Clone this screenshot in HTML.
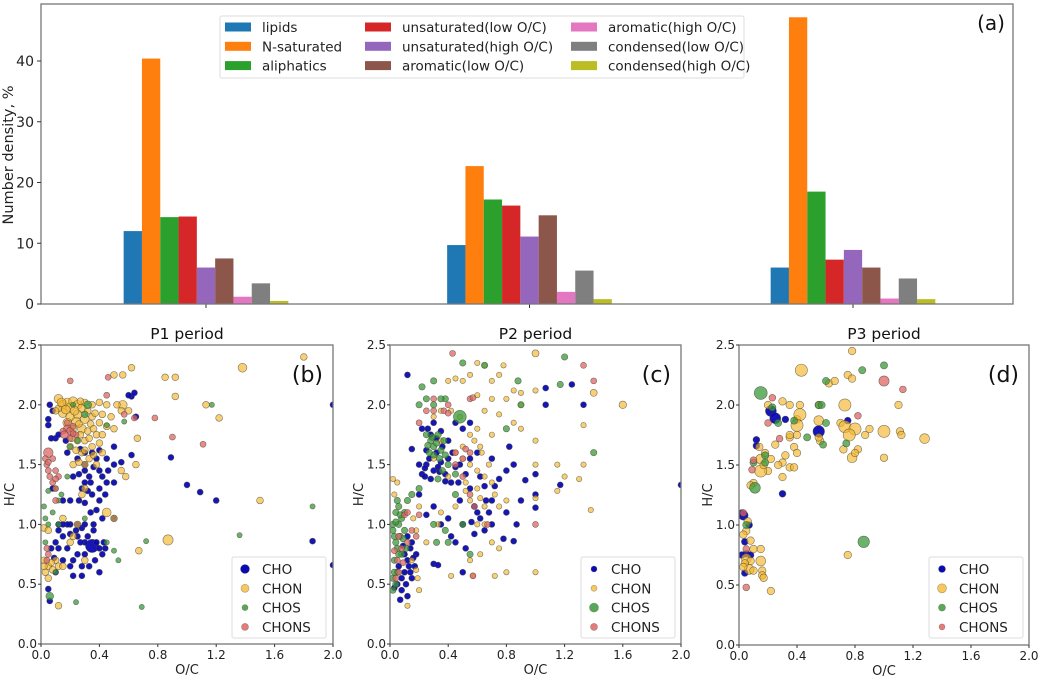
<!DOCTYPE html>
<html><head><meta charset="utf-8">
<style>
html,body{margin:0;padding:0;background:#fff;}
svg{display:block;font-family:"DejaVu Sans","Liberation Sans",sans-serif;}
</style></head>
<body>
<svg id="fig" width="1040" height="680" viewBox="0 0 1040 680" xmlns="http://www.w3.org/2000/svg"></svg>
<script>
// ---- Bar chart data (a) ----
const periods = ["P1","P2","P3"];
const categories = ["lipids","N-saturated","aliphatics","unsaturated(low O/C)","unsaturated(high O/C)","aromatic(low O/C)","aromatic(high O/C)","condensed(low O/C)","condensed(high O/C)"];
const catColors = ["#1f77b4","#ff7f0e","#2ca02c","#d62728","#9467bd","#8c564b","#e377c2","#7f7f7f","#bcbd22"];
const valsP1 = [12.0,40.4,14.3,14.4,6.0,7.5,1.2,3.4,0.5];
const valsP2 = [9.7,22.7,17.2,16.2,11.1,14.6,2.0,5.5,0.8];
const valsP3 = [6.0,47.2,18.5,7.3,8.9,6.0,0.9,4.2,0.8];
const barYTicks = [0,10,20,30,40];

// ---- Scatter data: [O/C, H/C, sizeFactor] ----
const p1CHO = [[0.35,0.82,2.2],[0.4,0.6],[0.22,0.57],[0.28,0.57],[0.3,0.75],[0.1,0.85],[0.12,0.95],[0.15,0.9],[0.2,0.92],[0.25,0.9],[0.3,0.85],[0.4,0.8],[0.42,0.75],[0.36,0.95],[0.42,1.05],[0.5,1.05],[0.3,1.18],[0.4,1.2],[0.28,1.3],[0.35,1.25],[0.45,1.35],[0.5,1.35],[0.22,1.4],[0.3,1.45],[0.4,1.45],[0.5,1.5],[0.38,1.55],[0.45,1.55],[0.55,1.52],[0.62,1.58],[0.3,1.6],[0.5,1.65],[0.62,2.07],[0.6,2.08],[0.64,2.1],[0.65,1.9],[0.89,1.56],[1.0,1.33],[1.09,1.27],[1.2,1.2],[1.86,0.86],[2.0,0.66],[2.0,2.0],[0.05,0.46],[0.06,0.36],[0.07,0.8],[0.05,1.88],[0.05,1.83],[0.06,2.0],[0.1,1.72],[0.15,1.2],[0.08,1.3],[0.18,1.6],[0.2,1.0],[0.25,1.0],[0.15,0.7],[0.2,0.65],[0.33,0.65],[0.28,0.97],[0.36,1.0],[0.43,0.85],[0.12,1.0],[0.18,0.8],[0.25,0.75],[0.33,1.4],[0.4,1.3],[0.2,1.2],[0.1,0.6],[0.07,1.72],[0.3,1.5],[0.26,1.42],[0.34,1.35],[0.32,0.9],[0.38,0.85],[0.44,0.8],[0.27,0.85],[0.24,0.95],[0.3,1.0],[0.34,1.1],[0.38,1.12],[0.26,1.2],[0.32,1.28],[0.42,1.4],[0.46,1.45],[0.36,1.48],[0.25,1.55],[0.35,1.6],[0.4,1.62],[0.18,1.0],[0.15,1.0],[0.09,0.72],[0.12,0.8],[0.22,0.7],[0.28,0.65],[0.37,0.7],[0.17,1.7],[0.12,1.75],[0.08,1.95],[0.27,1.63],[0.44,1.25],[0.3,1.35]];
const p1CHON = [[0.5,2.25],[0.56,2.25],[0.62,2.31],[0.85,2.23],[0.92,2.23],[0.92,2.07],[1.38,2.31,1.3],[1.8,2.4],[1.13,2.0],[1.22,1.89],[1.5,1.2],[0.87,0.87,1.5],[0.67,0.78],[0.12,0.32],[0.56,2.0,1.3],[0.52,2.0],[0.12,2.05,1.3],[0.15,2.0,1.3],[0.18,2.02,1.3],[0.2,1.98,1.3],[0.22,2.03,1.3],[0.25,2.0,1.3],[0.28,1.97,1.3],[0.3,2.02],[0.35,2.0],[0.4,2.02],[0.45,2.0],[0.15,1.93,1.3],[0.2,1.9,1.3],[0.25,1.92,1.3],[0.3,1.88,1.3],[0.35,1.9],[0.4,1.85],[0.45,1.82],[0.18,1.85,1.3],[0.22,1.8],[0.28,1.8,1.3],[0.32,1.78],[0.38,1.75],[0.25,1.7],[0.3,1.7],[0.35,1.65],[0.4,1.68],[0.2,1.65],[0.28,1.6],[0.33,1.55],[0.38,1.5],[0.22,1.5],[0.42,1.6],[0.3,1.5],[0.55,1.45],[0.58,1.4],[0.65,1.5],[0.66,1.72],[0.5,1.8],[0.48,1.9],[0.55,1.95],[0.6,1.95],[0.02,0.97],[0.05,0.95],[0.02,0.7],[0.05,0.65],[0.03,0.6],[0.08,0.62],[0.1,0.7],[0.05,0.55],[0.12,0.65],[0.15,0.65],[0.2,0.85],[0.15,1.05],[0.45,1.1,1.3],[0.5,1.05],[0.12,1.97],[0.1,1.95],[0.3,1.3],[0.28,1.25],[0.25,1.0],[0.22,0.9],[0.3,0.7],[0.14,2.02,1.3],[0.24,1.86,1.3],[0.34,1.84],[0.27,1.75],[0.21,1.72],[0.17,1.96,1.3],[0.23,1.95,1.3],[0.27,2.03],[0.32,1.95],[0.37,1.93],[0.42,1.92],[0.26,1.84],[0.33,1.72],[0.36,1.8],[0.42,1.75],[0.24,1.62],[0.3,1.62],[0.36,1.58],[0.26,1.52],[0.02,0.65],[0.07,0.68]];
const p1CHOS = [[0.06,0.4,1.5],[0.24,0.35],[0.69,0.31],[0.72,0.86],[0.53,0.7],[0.5,0.78],[1.36,0.91],[1.86,1.15],[1.17,2.0],[0.32,2.0,1.5],[0.3,1.92,1.3],[0.57,1.86],[0.45,1.83],[0.02,1.15],[0.03,1.05],[0.05,1.0],[0.08,1.1],[0.12,1.2],[0.1,1.3],[0.14,1.25],[0.05,1.28],[0.03,0.85],[0.1,0.6],[0.12,1.0],[0.18,1.4],[0.2,1.65],[0.3,1.05],[0.45,0.85],[0.25,1.7],[0.22,2.0]];
const p1CHONS = [[0.05,1.6,1.6],[0.04,1.5],[0.05,1.45],[0.06,1.4],[0.1,1.45],[0.12,1.4],[0.08,1.35],[0.1,1.3],[0.03,1.55],[0.04,0.8],[0.05,0.75],[0.04,0.7],[0.18,1.8,1.3],[0.2,1.78,1.3],[0.22,1.82],[0.2,1.72],[0.24,1.75],[0.18,1.85],[0.15,1.78],[0.2,2.2],[0.46,2.23],[0.45,2.08],[0.78,1.89],[0.9,1.73],[1.11,1.67],[0.64,1.89],[0.57,1.92],[0.08,1.55],[0.1,1.2],[0.16,1.75,1.3],[0.22,1.76],[0.05,1.52],[0.1,1.38]];

const p2CHO = [[0.12,2.25],[1.07,2.14],[1.07,2.0],[1.25,2.17],[1.33,2.0],[1.17,1.33],[2.0,1.33],[1.0,1.42],[1.0,1.25],[1.0,1.14],[0.9,1.2],[0.93,1.37],[0.87,1.0],[0.85,0.86],[0.78,0.88],[0.8,1.1],[0.7,1.0],[0.66,1.2],[0.6,1.1],[0.55,1.3],[0.5,1.0],[0.45,0.85],[0.5,0.6],[0.52,0.8],[0.58,0.92],[0.3,0.67],[0.33,0.66],[0.4,1.05],[0.42,0.9],[0.35,1.0],[0.3,1.15],[0.25,1.08],[0.2,1.25],[0.82,1.65],[0.8,1.45],[0.75,1.38],[0.85,1.5],[0.7,1.55],[0.6,1.6],[0.45,1.85],[0.5,1.8],[0.55,1.85],[0.2,1.5],[0.22,1.42],[0.25,1.5],[0.28,1.38],[0.3,1.45],[0.32,1.6],[0.35,1.52],[0.38,1.42],[0.25,1.62],[0.28,1.75],[0.22,1.8],[0.3,1.85],[0.35,1.78],[0.4,1.7],[0.4,1.55],[0.45,1.48],[0.42,1.35],[0.47,1.35],[0.52,1.42],[0.15,1.63],[0.03,0.47],[0.07,0.37],[0.05,0.5],[0.08,0.55],[0.1,0.6],[0.12,0.7],[0.14,0.8],[0.12,0.9],[0.15,0.85],[0.1,0.75],[0.13,0.65],[0.15,0.55],[0.12,0.4],[0.08,0.45],[0.06,0.65],[0.18,0.75],[0.58,1.15],[0.62,1.05],[0.65,0.95],[0.7,1.2],[0.27,1.55],[0.33,1.48],[0.24,1.4],[0.26,1.8],[0.32,1.72],[0.36,1.65],[0.38,1.36],[0.34,1.44],[0.24,1.47],[0.43,1.6],[0.48,1.5],[0.55,1.55],[0.62,1.4],[0.65,1.32],[0.68,1.1],[0.72,1.32],[0.56,1.02],[0.48,1.2],[0.16,0.72],[0.11,0.5],[0.14,0.6],[0.09,0.82],[0.17,0.65]];
const p2CHON = [[1.6,2.0,1.4],[1.4,2.1,1.3],[1.33,1.83],[1.33,1.5],[1.3,1.38],[1.2,1.4],[1.15,1.28],[1.15,1.5],[1.38,1.12],[1.0,2.43,1.3],[1.0,2.12],[1.0,1.7],[1.0,1.5],[1.0,1.22],[1.0,0.6],[0.8,0.6],[0.72,0.57],[0.42,0.57],[0.57,0.57],[0.4,2.2],[0.45,2.22],[0.5,2.2],[0.55,2.25],[0.6,2.35],[0.65,2.33],[0.7,2.2],[0.78,2.33],[0.85,2.12],[0.9,2.1],[0.6,2.08],[0.7,2.05],[0.8,2.05],[0.9,2.0],[0.65,1.95],[0.75,1.92],[0.85,1.85],[0.55,1.75],[0.6,1.8],[0.7,1.75],[0.9,1.8],[0.5,1.55],[0.55,1.5],[0.6,1.45],[0.65,1.4],[0.7,1.35],[0.72,1.25],[0.75,1.15],[0.8,1.2],[0.6,1.3],[0.65,1.15],[0.55,1.2],[0.45,1.15],[0.35,1.1],[0.33,1.0],[0.6,1.0],[0.65,1.0],[0.7,0.85],[0.75,0.8],[0.62,0.75],[0.55,0.7],[0.25,0.85],[0.15,0.7],[0.18,0.62],[0.2,0.45],[0.12,0.32],[0.05,1.35],[0.03,1.25],[0.02,1.38],[0.4,1.4],[0.45,1.6],[0.35,1.7],[0.3,1.55],[0.5,1.65],[0.48,1.9],[0.42,1.95],[0.35,1.95],[0.3,1.9],[0.2,1.15],[0.75,2.25],[0.62,1.65],[0.52,1.35],[0.58,1.7],[0.63,1.6],[0.68,1.5],[0.52,1.28],[0.62,1.22],[0.18,0.95],[0.16,1.05],[0.19,0.55]];
const p2CHOS = [[0.48,1.9,2.0],[0.02,1.0],[0.03,0.9],[0.04,1.1],[0.05,0.8],[0.06,1.0],[0.07,0.9],[0.08,1.05],[0.1,0.95],[0.03,0.7],[0.05,0.6],[0.04,0.5],[0.02,0.45],[0.08,0.75],[0.1,1.1],[0.12,1.2],[0.15,1.25],[0.06,1.15],[0.05,1.2],[0.2,2.0],[0.22,2.15],[0.25,2.05],[0.3,2.0],[0.3,2.2],[0.38,2.05],[0.35,2.05],[0.5,2.35],[0.65,2.33],[0.88,2.2],[1.2,2.4],[1.17,2.17],[0.9,2.0],[1.4,1.6],[0.25,1.75],[0.28,1.7],[0.3,1.65],[0.32,1.68],[0.35,1.62],[0.3,1.58],[0.27,1.6],[0.38,1.58],[0.4,1.5],[0.36,1.45],[0.33,1.38],[0.45,1.42],[0.2,1.3],[0.3,1.0],[0.32,0.85],[0.38,0.95],[0.4,0.85],[0.5,1.0],[0.55,0.75],[0.45,1.25],[0.8,1.8],[0.26,1.66],[0.29,1.73],[0.34,1.55],[0.02,0.95],[0.04,0.85],[0.06,0.75],[0.03,0.6],[0.07,1.08],[0.09,0.88],[0.04,1.02],[0.11,0.8],[0.02,0.55],[0.33,1.75],[0.37,1.7]];
const p2CHONS = [[0.43,2.43],[1.33,2.33],[1.4,2.2],[0.55,2.05],[0.57,2.06],[0.3,2.05],[0.3,1.95],[0.25,1.95],[0.37,1.95],[0.4,2.0],[0.4,1.93],[0.2,1.85],[0.45,1.6],[0.52,1.63],[0.55,1.6],[0.5,1.55],[0.45,1.5],[0.5,1.4],[0.55,1.25],[0.58,1.15],[0.1,1.08],[0.12,1.1],[0.05,0.7],[0.06,0.6],[0.08,0.8],[0.04,0.55],[0.12,0.85],[0.15,0.95],[0.2,1.08],[0.57,0.57],[1.0,1.0],[0.67,1.0],[0.18,0.9],[0.06,0.9],[0.09,0.68],[0.03,0.78]];

const p3CHO = [[0.22,1.95,1.6],[0.25,1.89,1.6],[0.32,1.88],[0.55,1.78,1.7],[0.75,1.87],[0.12,1.71],[0.12,1.66],[0.3,1.26],[0.02,1.1],[0.03,1.08,1.4],[0.07,1.0],[0.04,0.86],[0.05,0.76],[0.02,0.75],[0.08,0.75],[0.04,0.6]];
const p3CHON = [[0.43,2.29,1.6],[0.78,2.45],[0.75,2.25],[0.78,2.22],[0.62,2.18],[0.66,2.2],[1.1,2.0],[0.73,2.0,1.6],[0.55,2.0],[0.42,2.0],[0.35,2.0],[0.3,2.03],[0.2,2.0],[0.55,1.87,1.3],[0.4,1.88],[0.42,1.92,1.6],[0.4,1.83,1.6],[0.7,1.85],[0.73,1.82,1.6],[0.8,1.8,1.6],[0.76,1.75,1.6],[0.87,1.75],[0.9,1.8],[1.0,1.78,1.6],[1.11,1.78],[1.12,1.75],[1.28,1.72,1.3],[1.0,1.56],[0.78,1.56,1.3],[0.82,1.63],[0.8,1.6],[0.72,1.63],[0.56,1.7],[0.55,1.73],[0.4,1.75],[0.35,1.73],[0.38,1.65],[0.32,1.58],[0.3,1.52],[0.35,1.48],[0.38,1.48],[0.4,1.6],[0.25,1.67],[0.27,1.5],[0.2,1.45],[0.15,1.45,1.6],[0.15,1.55,1.3],[0.18,1.6],[0.17,1.5],[0.22,1.55],[0.3,1.4],[0.1,1.35],[0.08,1.33],[0.14,1.65],[0.35,1.75],[0.75,0.75],[0.22,0.45],[0.05,0.95],[0.03,0.92],[0.08,0.87],[0.1,0.8],[0.05,0.72,1.3],[0.08,0.7],[0.04,0.68],[0.07,0.63,1.3],[0.1,0.62],[0.03,0.65],[0.15,0.8],[0.15,0.7,1.3],[0.16,0.62],[0.16,0.58],[0.17,0.56],[0.06,1.03]];
const p3CHOS = [[0.15,2.1,1.8],[0.11,1.31,1.5],[0.86,0.86,1.6],[0.85,2.29],[1.0,2.33],[0.6,2.2],[0.55,2.0],[0.57,2.0],[0.6,1.85],[0.58,1.67],[0.47,1.73],[0.74,1.68],[0.38,1.87],[0.27,1.85],[0.23,1.98],[0.18,1.58],[0.18,1.52],[0.1,1.52],[0.05,1.0]];
const p3CHONS = [[1.0,2.2,1.5],[1.13,2.13],[0.82,1.91],[0.23,2.06],[0.2,1.85],[0.28,1.72],[0.1,1.54],[0.09,1.46],[0.05,0.48],[0.03,1.1],[0.05,0.8]];
const scatterXTicks = [0.0,0.4,0.8,1.2,1.6,2.0];
const scatterYTicks = [0.0,0.5,1.0,1.5,2.0,2.5];
const classNames = ["CHO","CHON","CHOS","CHONS"];

const NS="http://www.w3.org/2000/svg";
const svg=document.getElementById('fig');
function mk(tag,attrs,parent){const e=document.createElementNS(NS,tag);for(const k in attrs)e.setAttribute(k,attrs[k]);(parent||svg).appendChild(e);return e;}
function txt(s,attrs,parent){const e=mk('text',attrs,parent);e.textContent=s;return e;}

// ===== Panel (a) =====
const A={x0:41,x1:1013,y0:4,y1:304};
const ay=v=>A.y1-v*6.075;
const ax=i=>206+i*323.5;
const barW=18.3;
const gA=mk('g',{});


const allVals=[valsP1,valsP2,valsP3];
allVals.forEach((vals,pi)=>{
  vals.forEach((v,ci)=>{
    const x=ax(pi)-barW*4.5+ci*barW;
    const r=mk('rect',{x:x,y:ay(v),width:barW,height:ay(0)-ay(v),fill:catColors[ci]},gA);
    
    
  });
  mk('line',{x1:ax(pi),x2:ax(pi),y1:A.y1,y2:A.y1+4,stroke:'#333','stroke-width':1},gA);
});
const frA=mk('rect',{x:A.x0,y:A.y0,width:A.x1-A.x0,height:A.y1-A.y0,fill:'none',stroke:'#777','stroke-width':1.3},gA);


barYTicks.forEach(t=>{
  mk('line',{x1:A.x0-4,x2:A.x0,y1:ay(t),y2:ay(t),stroke:'#333'},gA);
  const l=txt(String(t),{x:A.x0-7,y:ay(t)+5,'text-anchor':'end','font-size':14,fill:'#222'},gA);
  
  
});
const yl=txt('Number density, %',{x:0,y:0,transform:'translate(13,155) rotate(-90)','text-anchor':'middle','font-size':14.5,fill:'#222'},gA);


const la=txt('(a)',{x:1005,y:30,'text-anchor':'end','font-size':20,fill:'#111'},gA);


const lgA=mk('g',{},gA);


mk('rect',{x:220,y:16,width:524,height:62,fill:'#fff',stroke:'#ddd',rx:2},lgA);
const colX=[225,365,571];
categories.forEach((c,i)=>{
  const col=Math.floor(i/3),row=i%3;
  const yy=27+row*19.3;
  mk('rect',{x:colX[col],y:yy-4.5,width:26,height:9,fill:catColors[i]},lgA);
  const t=txt(c,{x:colX[col]+37,y:yy+5,'font-size':13.5,fill:'#222'},lgA);
  
  
});

// ===== Scatter panels =====
const clsColors=["#0a0ab4","#f5b52a","#3a9a3a","#e06464"];
const clsOpacity=[0.95,0.65,0.75,0.75];
function scatterPanel(P){
  const g=mk('g',{});
  
  
  const sx=v=>P.x0+v*(P.x1-P.x0)/2;
  const sy=v=>P.y1-v*(P.y1-P.y0)/2.5;
  const cl=mk('clipPath',{id:'clip'+P.id},g);
  mk('rect',{x:P.x0,y:P.y0,width:P.x1-P.x0,height:P.y1-P.y0},cl);
  const pts=mk('g',{'clip-path':'url(#clip'+P.id+')'},g);
  P.series.forEach((ser,si)=>{
    ser.forEach(p=>{
      const c=mk('circle',{cx:sx(p[0]),cy:sy(p[1]),r:P.r[si]*(p[2]||1),fill:clsColors[si],'fill-opacity':clsOpacity[si],stroke:'#443',"stroke-opacity":0.7,'stroke-width':0.6},pts);
      
      
    });
  });
  const fr=mk('rect',{x:P.x0,y:P.y0,width:P.x1-P.x0,height:P.y1-P.y0,fill:'none',stroke:'#777','stroke-width':1.3},g);
  
  
  scatterXTicks.forEach(t=>{
    mk('line',{x1:sx(t),x2:sx(t),y1:P.y1,y2:P.y1+3,stroke:'#333'},g);
    const l=txt(t.toFixed(1),{x:sx(t),y:P.y1+15,'text-anchor':'middle','font-size':12,fill:'#222'},g);
    
    
  });
  scatterYTicks.forEach(t=>{
    mk('line',{x1:P.x0-3,x2:P.x0,y1:sy(t),y2:sy(t),stroke:'#333'},g);
    const l=txt(t.toFixed(1),{x:P.x0-4,y:sy(t)+4,'text-anchor':'end','font-size':12,fill:'#222'},g);
    
    
  });
  const xt=txt('O/C',{x:(P.x0+P.x1)/2,y:P.y1+30,'text-anchor':'middle','font-size':13,fill:'#222'},g);
  
  
  const yt=txt('H/C',{x:0,y:0,transform:'translate('+(P.x0-27)+','+((P.y0+P.y1)/2)+') rotate(-90)','text-anchor':'middle','font-size':13,fill:'#222'},g);
  
  
  const ti=txt(P.title,{x:(P.x0+P.x1)/2,y:P.y0-6,'text-anchor':'middle','font-size':15.5,fill:'#111'},g);
  
  
  const pl=txt(P.label,{x:P.x1-10,y:P.y0+37,'text-anchor':'end','font-size':22,fill:'#111'},g);
  
  
  const lg=mk('g',{},g);
  
  
  mk('rect',{x:P.lx,y:557,width:94,height:81,fill:'#fff',stroke:'#ddd',rx:2},lg);
  classNames.forEach((n,i)=>{
    const yy=569+i*19.3;
    mk('circle',{cx:P.lx+13,cy:yy,r:P.lr[i],fill:clsColors[i],'fill-opacity':clsOpacity[i]+0.1,stroke:'#554','stroke-opacity':0.5,'stroke-width':0.6},lg);
    const t=txt(n,{x:P.lx+30,y:yy+5,'font-size':13.5,fill:'#222'},lg);
    
    
  });
}
scatterPanel({id:'b',title:'P1 period',label:'(b)',x0:41,x1:333,y0:345,y1:644,series:[p1CHO,p1CHON,p1CHOS,p1CHONS],r:[3,3.4,2.6,3],lx:232,lr:[4.5,4,3,3.5]});
scatterPanel({id:'c',title:'P2 period',label:'(c)',x0:390,x1:681,y0:345,y1:644,series:[p2CHO,p2CHON,p2CHOS,p2CHONS],r:[3,2.7,3.2,3],lx:581,lr:[3,3,4.5,3.5]});
scatterPanel({id:'d',title:'P3 period',label:'(d)',x0:739,x1:1029,y0:345,y1:645,series:[p3CHO,p3CHON,p3CHOS,p3CHONS],r:[3.4,3.8,3.6,3.4],lx:929,lr:[3.5,4.5,3.5,3]});
</script>
</body></html>
